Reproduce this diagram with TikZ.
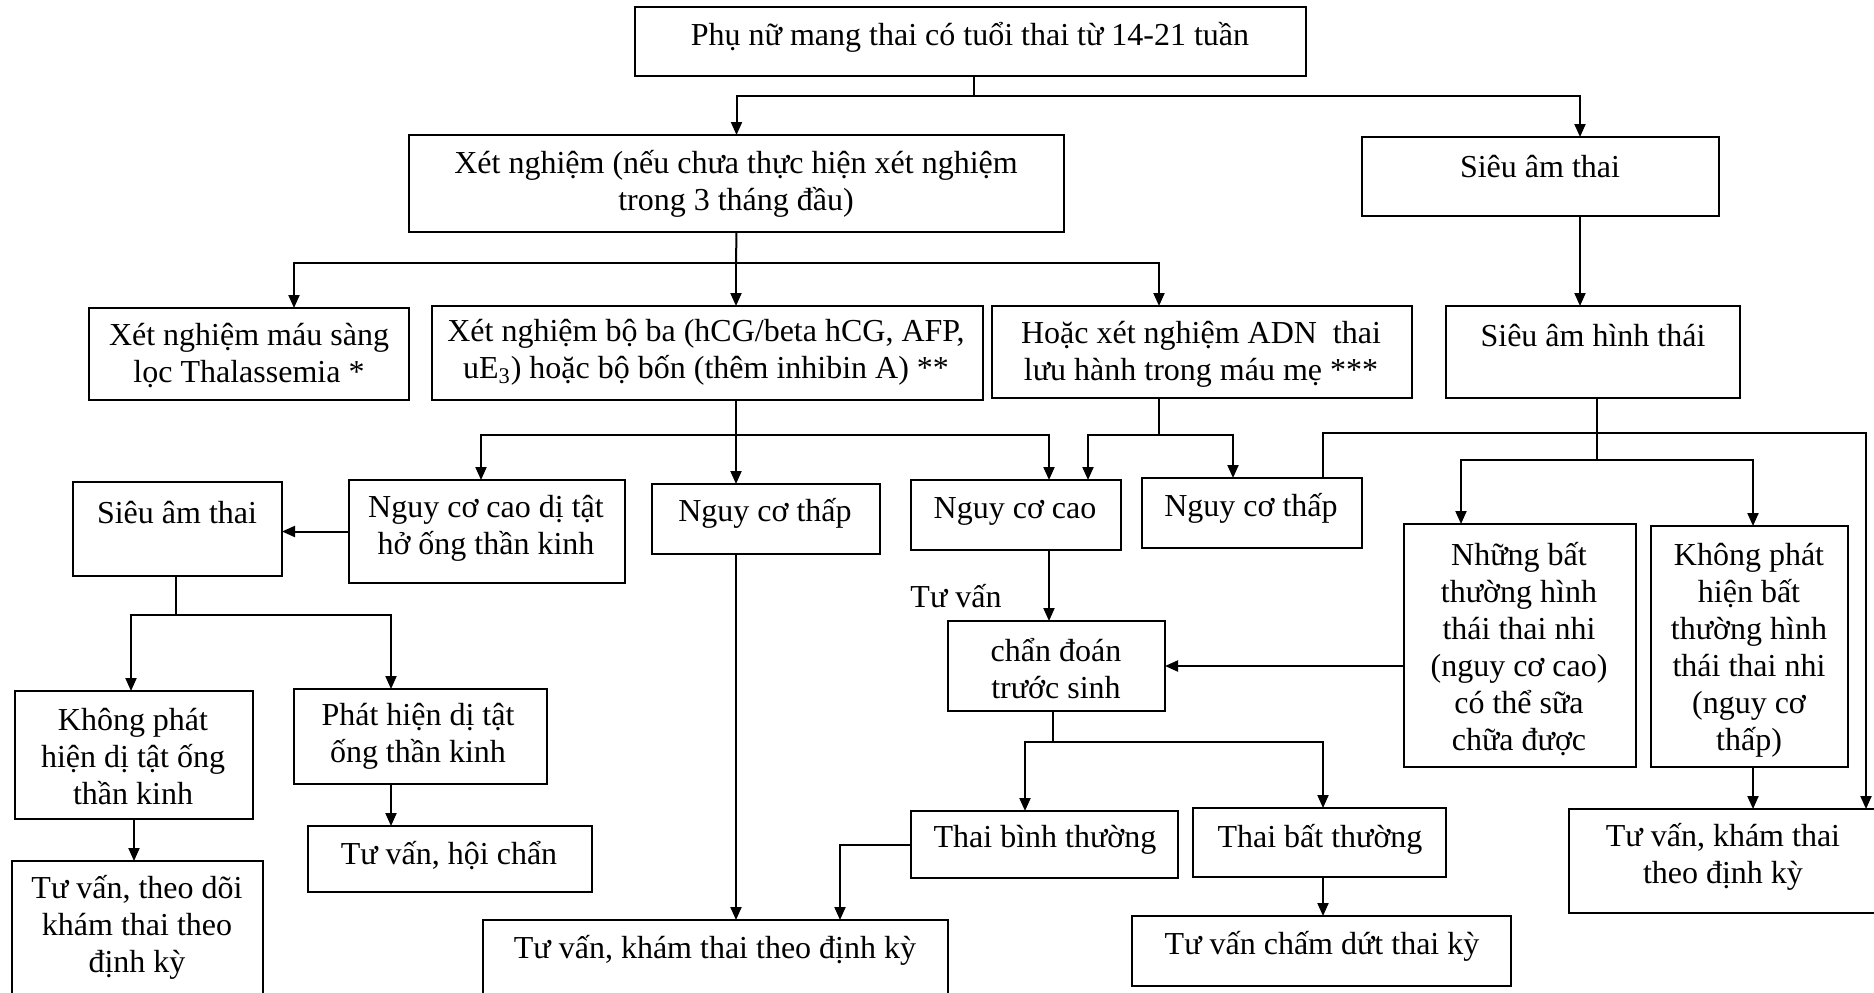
\documentclass[tikz,border=0pt]{standalone}
\usepackage{fontspec}
\setmainfont{Liberation Serif}
\usetikzlibrary{arrows.meta}

\tikzset{
  box/.style={draw, line width=0.95pt, inner sep=0pt, outer sep=0pt},
  txt/.style={align=center, inner sep=0pt, font=\fontsize{16pt}{18.5pt}\selectfont},
  link/.style={line width=1pt},
  arr/.style={line width=1pt, -{Triangle[length=6.5pt,width=5.5pt]}},
}

% \mkbox{name}{x1}{y1}{x2}{y2}: a framed box spanning the given corners
\newcommand\mkbox[5]{%
  \node[box, minimum width={(#4-#2)*0.5pt}, minimum height={(#5-#3)*0.5pt}]
    (#1) at ({(#2+#4)/2},{(#3+#5)/2}) {};}

\begin{document}
\begin{tikzpicture}[x=0.5pt, y=-0.5pt]
\useasboundingbox (0,0) rectangle (1874,992);
\clip (0,0) rectangle (1874,992);

% ---------- boxes ----------
\mkbox{top}{635}{7}{1306}{76}
\mkbox{xn}{409}{135}{1064}{232}
\mkbox{sar}{1362}{137}{1719}{216}
\mkbox{thal}{89}{308}{409}{400}
\mkbox{boba}{432}{306}{983}{400}
\mkbox{adn}{992}{306}{1412}{398}
\mkbox{sah}{1446}{306}{1740}{398}
\mkbox{sal}{73}{482}{282}{576}
\mkbox{nccd}{349}{480}{625}{583}
\mkbox{ncl}{652}{484}{880}{554}
\mkbox{ncc}{911}{480}{1121}{550}
\mkbox{ncr}{1142}{478}{1362}{548}
\mkbox{cds}{948}{621}{1165}{711}
\mkbox{nbt}{1404}{524}{1636}{767}
\mkbox{kpb}{1651}{526}{1848}{767}
\mkbox{kdt}{15}{691}{253}{819}
\mkbox{pdt}{294}{689}{547}{784}
\mkbox{tvh}{308}{826}{592}{892}
\mkbox{tvd}{12}{861}{263}{1010}
\mkbox{tvk}{483}{920}{948}{1010}
\mkbox{tbn}{911}{811}{1178}{878}
\mkbox{tbb}{1193}{808}{1446}{877}
\mkbox{tvc}{1132}{916}{1511}{986}
\mkbox{tvr}{1569}{809}{1890}{913}

% ---------- texts ----------
\node[txt] (top-t)  at (970,37)   {Phụ nữ mang thai có tuổi thai từ 14-21 tuần};
\node[txt] (xn-t)   at (736,184)  {Xét nghiệm (nếu chưa thực hiện xét nghiệm\\trong 3 tháng đầu)};
\node[txt] (sar-t)  at (1540,167) {Siêu âm thai};
\node[txt] (thal-t) at (249,356)  {Xét nghiệm máu sàng\\lọc Thalassemia *};
\node[txt] (boba-t) at (706,352)  {Xét nghiệm bộ ba (hCG/beta hCG, AFP,\\uE\textsubscript{3}) hoặc bộ bốn (thêm inhibin A) **};
\node[txt] (adn-t)  at (1201,354) {Hoặc xét nghiệm ADN\ \ thai\\lưu hành trong máu mẹ ***};
\node[txt] (sah-t)  at (1593,336) {Siêu âm hình thái};
\node[txt] (sal-t)  at (177,513)  {Siêu âm thai};
\node[txt] (nccd-t) at (486,528)  {Nguy cơ cao dị tật\\hở ống thần kinh};
\node[txt] (ncl-t)  at (765,513)  {Nguy cơ thấp};
\node[txt] (ncc-t)  at (1015,511) {Nguy cơ cao};
\node[txt] (ncr-t)  at (1251,508) {Nguy cơ thấp};
\node[txt] (tv-t)   at (956,596)  {Tư vấn};
\node[txt] (cds-t)  at (1056,669) {chẩn đoán\\trước sinh};
\node[txt] (nbt-t)  at (1519,649) {Những bất\\thường hình\\thái thai nhi\\(nguy cơ cao)\\có thể sữa\\chữa được};
\node[txt] (kpb-t)  at (1749,650) {Không phát\\hiện bất\\thường hình\\thái thai nhi\\(nguy cơ\\thấp)};
\node[txt] (kdt-t)  at (133,757)  {Không phát\\hiện dị tật ống\\thần kinh};
\node[txt] (pdt-t)  at (418,736)  {Phát hiện dị tật\\ống thần kinh};
\node[txt] (tvh-t)  at (449,856)  {Tư vấn, hội chẩn};
\node[txt] (tvd-t)  at (137,927)  {Tư vấn, theo dõi\\khám thai theo\\định kỳ};
\node[txt] (tvk-t)  at (715,950)  {Tư vấn, khám thai theo định kỳ};
\node[txt] (tbn-t)  at (1045,840) {Thai bình thường};
\node[txt] (tbb-t)  at (1320,839) {Thai bất thường};
\node[txt] (tvc-t)  at (1322,946) {Tư vấn chấm dứt thai kỳ};
\node[txt] (tvr-t)  at (1723,857) {Tư vấn, khám thai\\theo định kỳ};

% ---------- junction points and branch columns ----------
\coordinate (j0) at (974,96);
\coordinate (j1) at (736,263);
\coordinate (j2) at (736,435);
\coordinate (j3) at (1159,435);
\coordinate (j4) at (176,615);
\coordinate (j5) at (1053,742);
\coordinate (j6) at (1597,460);
\coordinate (j7) at (1866,433);
\coordinate (c1) at (1580,0);
\coordinate (c2) at (294,0);
\coordinate (c3) at (1159,0);
\coordinate (c4) at (481,0);
\coordinate (c5) at (1049,0);
\coordinate (c6) at (1088,0);
\coordinate (c7) at (1233,0);
\coordinate (c9) at (131,0);
\coordinate (c10) at (391,0);
\coordinate (c11) at (134,0);
\coordinate (c12) at (1025,0);
\coordinate (c13) at (1323,0);
\coordinate (c14) at (840,0);
\coordinate (c15) at (1461,0);
\coordinate (c16) at (1753,0);

% ---------- connectors ----------
% first split: tests / ultrasound
\draw[link] (top.south -| j0) -- (j0);
\draw[arr] (j0) -| (xn.north);
\draw[arr] (j0) -| (c1 |- sar.north);

% tests split into three
\draw[link] (xn.south) -- (j1);
\draw[arr] (j1) -| (c2 |- thal.north);
\draw[arr] (j1) -- (j1 |- boba.north);
\draw[arr] (j1) -| (c3 |- adn.north);

% ultrasound to morphology scan
\draw[arr] (c1 |- sar.south) -- (c1 |- sah.north);

% triple / quadruple test results
\draw[link] (j2 |- boba.south) -- (j2);
\draw[arr] (j2) -| (c4 |- nccd.north);
\draw[arr] (j2) -- (j2 |- ncl.north);
\draw[arr] (j2) -| (c5 |- ncc.north);

% cell-free DNA results
\draw[link] (c3 |- adn.south) -- (j3);
\draw[arr] (j3) -| (c6 |- ncc.north);
\draw[arr] (j3) -| (c7 |- ncr.north);

% neural tube branch
\draw[arr] (nccd.west) -- (nccd.west -| sal.east);
\draw[link] (j4 |- sal.south) -- (j4);
\draw[arr] (j4) -| (c9 |- kdt.north);
\draw[arr] (j4) -| (c10 |- pdt.north);
\draw[arr] (c11 |- kdt.south) -- (c11 |- tvd.north);
\draw[arr] (c10 |- pdt.south) -- (c10 |- tvh.north);

% low risk to routine care
\draw[arr] (j2 |- ncl.south) -- (j2 |- tvk.north);

% high risk to prenatal diagnosis
\draw[arr] (c5 |- ncc.south) -- (c5 |- cds.north);
\draw[arr] (nbt.west |- cds.east) -- (cds.east);
\draw[link] (j5 |- cds.south) -- (j5);
\draw[arr] (j5) -| (c12 |- tbn.north);
\draw[arr] (j5) -| (c13 |- tbb.north);
\draw[arr] (tbn.west) -| (c14 |- tvk.north);
\draw[arr] (c13 |- tbb.south) -- (c13 |- tvc.north);

% morphology scan results
\draw[link] (j6 |- sah.south) -- (j6);
\draw[arr] (j6) -| (c15 |- nbt.north);
\draw[arr] (j6) -| (c16 |- kpb.north);
\draw[arr] (c16 |- kpb.south) -- (c16 |- tvr.north);
\draw[arr] (c13 |- ncr.north) |- (j7) -- (j7 |- tvr.north);
\end{tikzpicture}
\end{document}
